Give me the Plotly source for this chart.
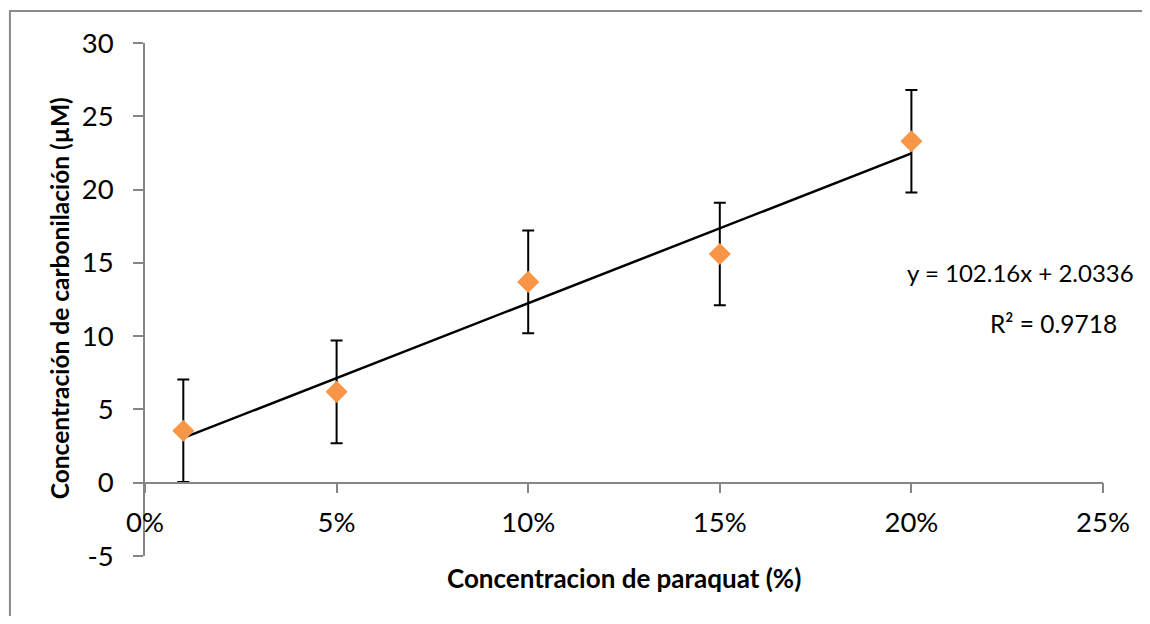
import numpy as np
import plotly.graph_objects as go

# Data
paraquat = [0.01, 0.05, 0.10, 0.15, 0.20]
carbonilacion = [3.55, 6.2, 13.7, 15.6, 23.3]
error = [3.5, 3.5, 3.5, 3.5, 3.5]
slope = 102.16
intercept = 2.0336
r2 = 0.9718
x_ticks = [0, 0.05, 0.10, 0.15, 0.20, 0.25]
y_ticks = [-5, 0, 5, 10, 15, 20, 25, 30]
y_tick_labels = ["-5", "0", "5", "10", "15", "20", "25", "30"]

FONT = "Lato"
AXIS_GRAY = "#868686"

# page offset (body margin 8px); plot area in page px: x 145..1106, y 43..556
OFF = 8
PL, PR, PT, PB = 145, 1106, 43, 556
W, H = 1150 - 2 * OFF, 624 - 2 * OFF


def px_x(p):
    return (p - PL) / (PR - PL)


def px_y(p):
    return (PB - p) / (PB - PT)


fig = go.Figure()

# Trend line
xt = np.array([min(paraquat), max(paraquat)])
yt = slope * xt + intercept
fig.add_trace(go.Scatter(x=xt, y=yt, mode="lines",
                         line=dict(color="black", width=2.5),
                         hoverinfo="skip", showlegend=False))

# Data points with error bars
fig.add_trace(go.Scatter(
    x=paraquat, y=carbonilacion, mode="markers",
    marker=dict(symbol="diamond", size=17, color="#F79646"),
    error_y=dict(type="data", array=error, visible=True,
                 color="black", thickness=2, width=6),
    showlegend=False))

fig.update_layout(
    width=W, height=H,
    margin=dict(l=PL - OFF, r=W + OFF - PR, t=PT - OFF, b=H + OFF - PB),
    paper_bgcolor="white", plot_bgcolor="white",
    font=dict(family=FONT, color="black"),
    xaxis=dict(
        range=[0, 0.25], tickvals=x_ticks, tickformat=".0%",
        showgrid=False, zeroline=False,
        showline=True, linecolor=AXIS_GRAY, linewidth=1.5,
        ticks="outside", ticklen=10, tickcolor=AXIS_GRAY, tickwidth=1.5,
        tickfont=dict(size=27.5, family=FONT), ticklabelstandoff=6,
        anchor="free", position=5 / 35,
    ),
    yaxis=dict(
        range=[-5, 30], tickvals=y_ticks, ticktext=y_tick_labels,
        showgrid=False, zeroline=False,
        showline=True, linecolor=AXIS_GRAY, linewidth=1.5,
        ticks="outside", ticklen=10, tickcolor=AXIS_GRAY, tickwidth=1.5,
        tickfont=dict(size=27.5, family=FONT), ticklabelstandoff=14,
    ),
)

# Axis titles
fig.add_annotation(xref="paper", yref="paper", x=px_x(626), y=px_y(578),
                   xanchor="center", yanchor="middle", showarrow=False,
                   text="<b>Concentracion de paraquat (%)</b>",
                   font=dict(size=26, family=FONT))
fig.add_annotation(xref="paper", yref="paper", x=px_x(59), y=px_y(298),
                   xanchor="center", yanchor="middle", showarrow=False, textangle=-90,
                   text="<b>Concentración de carbonilación (µM)</b>",
                   font=dict(size=24.5, family=FONT))

# Trendline equation
fig.add_annotation(xref="paper", yref="paper", x=px_x(1139), y=px_y(272),
                   xanchor="right", yanchor="middle", showarrow=False,
                   text=f"y = {slope}x + {intercept}", font=dict(size=24, family=FONT))
fig.add_annotation(xref="paper", yref="paper", x=px_x(1056), y=px_y(323),
                   xanchor="center", yanchor="middle", showarrow=False,
                   text=f"R² = {r2}", font=dict(size=24.5, family=FONT))

# Chart frame (only the left and top edges are visible in the reference)
fx, fy_top, fy_bot, fx_right = px_x(9.5), px_y(11), px_y(640), px_x(1170)
fig.add_shape(type="path", xref="paper", yref="paper",
              path=f"M {fx},{fy_bot} L {fx},{fy_top} L {fx_right},{fy_top}",
              line=dict(color="#8a8a8a", width=2),
              fillcolor="rgba(0,0,0,0)", layer="below")

fig.write_html("out.html")
